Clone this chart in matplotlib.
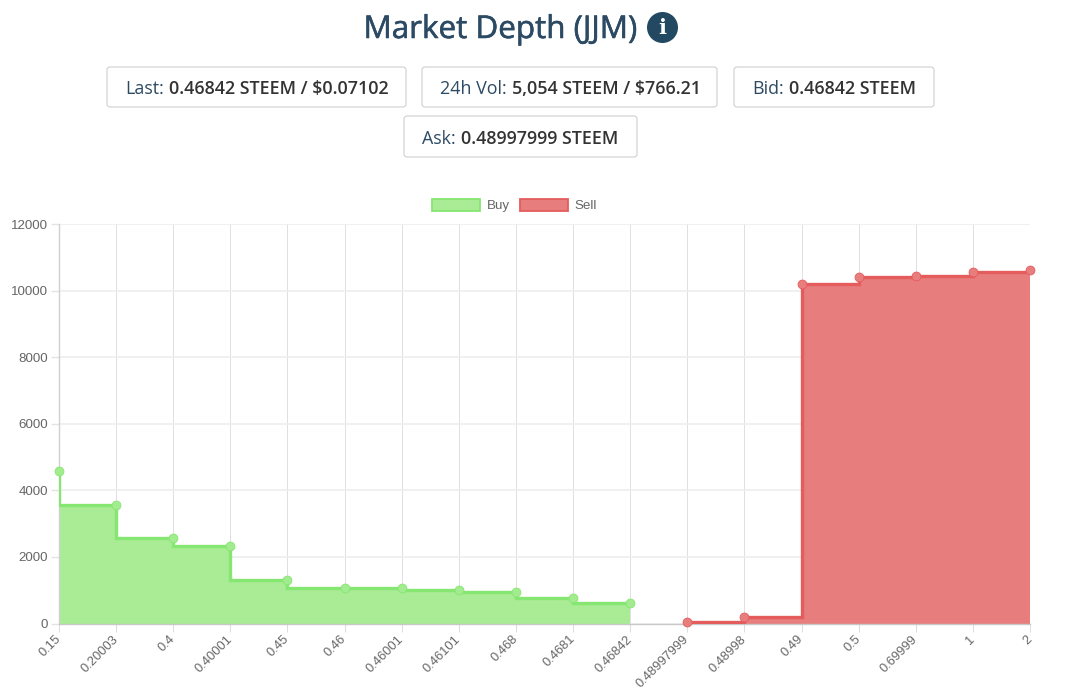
import matplotlib
matplotlib.use('Agg')
import matplotlib.pyplot as plt
import matplotlib.patheffects as pe
from matplotlib.patches import FancyBboxPatch, Circle, Patch

W, H = 1066, 689

labels = ['0.15', '0.20003', '0.4', '0.40001', '0.45', '0.46', '0.46001', '0.46101', '0.468',
          '0.4681', '0.46842', '0.48997999', '0.48998', '0.49', '0.5', '0.69999', '1', '2']
buy = [4570, 3570, 2570, 2330, 1320, 1075, 1060, 1000, 960, 760, 610]
sell = [50, 190, 10200, 10400, 10440, 10550, 10620]
y_ticks = [0, 2000, 4000, 6000, 8000, 10000, 12000]

# (x, y, w, h, normal text, bold text)
boxes = [
    (107, 67, 299, 40, 'Last: ', '0.46842 STEEM / $0.07102'),
    (422, 67, 295, 40, '24h Vol: ', '5,054 STEEM / $766.21'),
    (734, 67, 200, 40, 'Bid: ', '0.46842 STEEM'),
    (404, 116, 233, 41, 'Ask: ', '0.48997999 STEEM'),
]

BUY_FILL, BUY_LINE = '#A9EC95', '#86E672'
SELL_FILL, SELL_LINE = '#E87D7D', '#E45C5C'

fig = plt.figure(figsize=(W / 100, H / 100), dpi=100)
ax = fig.add_axes([59 / W, 1 - 623.5 / H, 971 / W, 399.5 / H])

# 买单 / 卖单
x_buy = list(range(len(buy)))
x_sell = list(range(len(buy), len(labels)))
ax.fill_between(x_buy, buy, 0, step='pre', color=BUY_FILL, lw=0, zorder=2)
ax.plot(x_buy, buy, drawstyle='steps-pre', color=BUY_LINE, lw=2.4, zorder=3, solid_joinstyle='miter')
ax.plot(x_buy, buy, 'o', ms=6.4, color='#A2EB8E', mec=BUY_LINE, mew=0.6, zorder=4, clip_on=False)
ax.fill_between(x_sell, sell, 0, step='post', color=SELL_FILL, lw=0, zorder=2)
ax.plot(x_sell, sell, drawstyle='steps-post', color=SELL_LINE, lw=2.4, zorder=3, solid_joinstyle='miter')
ax.plot(x_sell, sell, 'o', ms=6.4, color='#E87D7D', mec=SELL_LINE, mew=0.6, zorder=4, clip_on=False)

ax.set_xlim(0, len(labels) - 1)
ax.set_ylim(0, 12000)
ax.set_xticks(range(len(labels)))
ax.set_xticklabels(labels, rotation=45, ha='right', va='center', rotation_mode='anchor',
                   family='Liberation Sans', fontsize=9.3, color='#666666')
ax.set_yticks(y_ticks)
ax.set_yticklabels([str(v) for v in y_ticks], family='Liberation Sans', fontsize=9.6, color='#666666')
ax.tick_params(axis='x', length=6, width=0.7, color='#dcdcdc', pad=4)
ax.tick_params(axis='y', length=6, width=1.0, color='#e4e4e4', pad=2)
ax.grid(axis='x', color='#e0e0e0', lw=0.7, zorder=1)
ax.grid(axis='y', color='#eeeeee', lw=1.2, zorder=1)
ax.set_axisbelow(True)
for s in ['top', 'right']:
    ax.spines[s].set_visible(False)
ax.spines['left'].set_color('#d0d0d0')
ax.spines['bottom'].set_color('#c8c8c8')
ax.spines['left'].set_linewidth(1.0)
ax.spines['bottom'].set_linewidth(1.0)

handles = [Patch(facecolor=BUY_FILL, edgecolor=BUY_LINE, lw=1.3, label='Buy'),
           Patch(facecolor=SELL_FILL, edgecolor=SELL_LINE, lw=1.3, label='Sell')]
fig.legend(handles=handles, loc='center', bbox_to_anchor=(514.5 / W, 1 - 205.5 / H), ncol=2, frameon=False,
           prop={'family': 'Liberation Sans', 'size': 9.6}, labelcolor='#666666',
           handlelength=3.6, handleheight=1.1, handletextpad=0.5, columnspacing=0.8,
           borderpad=0, borderaxespad=0)

# 页面头部，用像素坐标
top = fig.add_axes([0, 0, 1, 1], zorder=5)
top.set_xlim(0, W)
top.set_ylim(H, 0)
top.axis('off')
top.patch.set_alpha(0)

title = top.text(500.5, 30, 'Market Depth (JJM)', family='Open Sans', fontsize=22.6, color='#2C4A63',
                 ha='center', va='center')
title.set_path_effects([pe.withStroke(linewidth=0.4, foreground='#2C4A63')])
top.add_patch(Circle((662.5, 27.5), 15.5, color='#234862', lw=0))
top.text(662.5, 27.5, 'i', family='DejaVu Serif', weight='bold', fontsize=15, color='white',
         ha='center', va='center')

renderer = fig.canvas.get_renderer()
for x, y, w, h, normal, bold in boxes:
    top.add_patch(FancyBboxPatch((x, y), w, h, boxstyle='round,pad=0,rounding_size=3',
                                 fc='white', ec='#c9c9c9', lw=0.7))
    t1 = top.text(x + 18.5, y + h / 2, normal.strip(), family='Open Sans', fontsize=12.9, color='#2C4A63',
                  ha='left', va='center_baseline')
    x2 = t1.get_window_extent(renderer).x1 + 5
    top.text(x2, y + h / 2, bold, family='Open Sans', fontsize=12.9, color='#333333', weight='semibold',
             ha='left', va='center_baseline')

fig.savefig('out.png', dpi=100)
